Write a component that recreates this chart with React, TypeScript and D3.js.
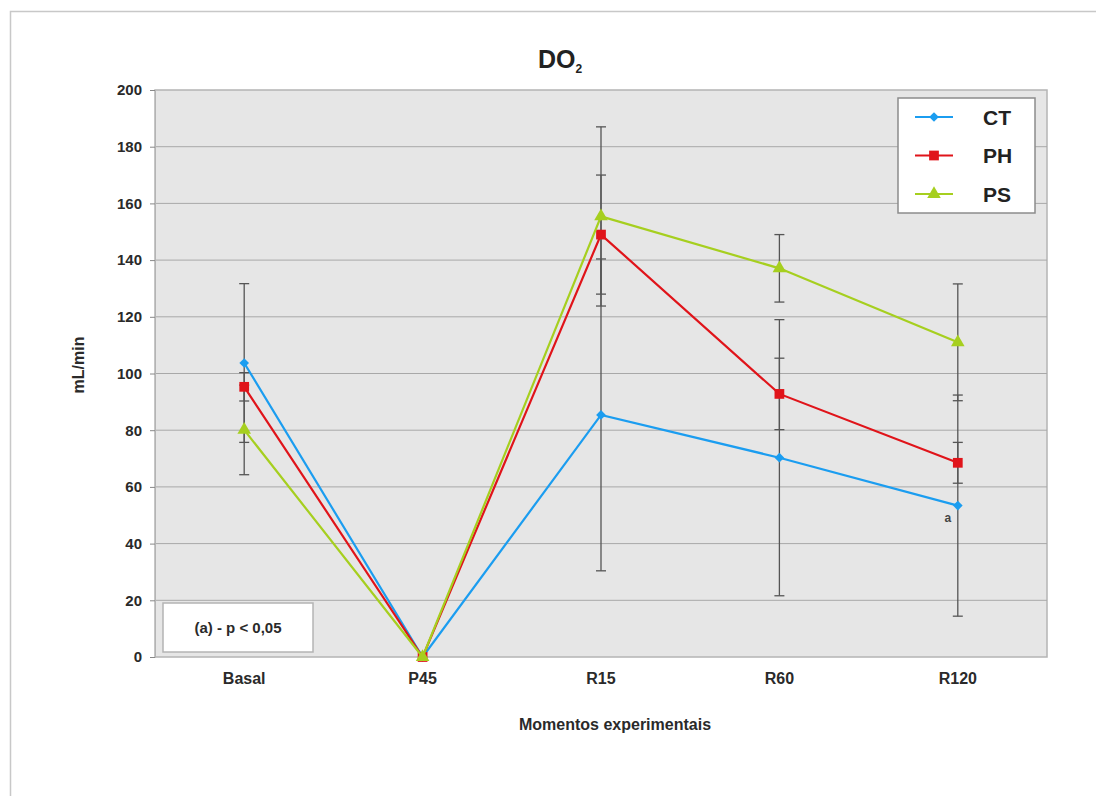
import React, { useRef, useEffect } from "react";
import * as d3 from "d3";

const moments = ["Basal", "P45", "R15", "R60", "R120"];
const ctValues = [103.7, 0, 85.4, 70.3, 53.4];
const phValues = [95.3, 0, 149, 92.8, 68.5];
const psValues = [80.1, 0, 155.4, 137.1, 111];
const ctErrors = [28, 0, 55, 48.7, 39];
const phErrors = [5, 0, 21, 12.6, 7.2];
const psErrors = [15.8, 0, 31.6, 11.9, 20.6];
const yTicks = [0, 20, 40, 60, 80, 100, 120, 140, 160, 180, 200];

const series = [
  { name: "CT", values: ctValues, errors: ctErrors, color: "#1b9df0", symbol: d3.symbolDiamond2, size: 60 },
  { name: "PH", values: phValues, errors: phErrors, color: "#e0141a", symbol: d3.symbolSquare, size: 95 },
  { name: "PS", values: psValues, errors: psErrors, color: "#a6cf1f", symbol: d3.symbolTriangle, size: 80 },
];

const App = () => {
  const svgRef = useRef<SVGSVGElement>(null);

  useEffect(() => {
    const width = 1096;
    const height = 796;
    const plot = { left: 155, right: 1047, top: 90, bottom: 657 };
    const font = "'Liberation Sans', Arial, sans-serif";

    const svg = d3.select(svgRef.current);
    svg.selectAll("*").remove();

    svg.append("rect").attr("width", width).attr("height", height).attr("fill", "#ffffff");

    // outer chart frame (only left/top visible)
    svg
      .append("path")
      .attr("d", `M10.5,${height} V11.5 H${width}`)
      .attr("fill", "none")
      .attr("stroke", "#c8c8c8")
      .attr("stroke-width", 1.5);

    const x = d3
      .scalePoint<string>()
      .domain(moments)
      .range([plot.left, plot.right])
      .padding(0.5);

    const y = d3.scaleLinear().domain([0, 200]).range([plot.bottom, plot.top]);

    // plot background
    svg
      .append("rect")
      .attr("x", plot.left)
      .attr("y", plot.top)
      .attr("width", plot.right - plot.left)
      .attr("height", plot.bottom - plot.top)
      .attr("fill", "#e6e6e6")
      .attr("stroke", "#b4b4b4")
      .attr("stroke-width", 1.5);

    // grid lines
    svg
      .append("g")
      .selectAll("line")
      .data(yTicks.slice(1, -1))
      .join("line")
      .attr("x1", plot.left)
      .attr("x2", plot.right)
      .attr("y1", (d) => y(d))
      .attr("y2", (d) => y(d))
      .attr("stroke", "#a8a8a8")
      .attr("stroke-width", 1);

    // y axis
    const yAxis = svg
      .append("g")
      .attr("transform", `translate(${plot.left},0)`)
      .call(d3.axisLeft(y).tickValues(yTicks).tickSize(5).tickPadding(8));
    yAxis.select(".domain").attr("stroke", "#b4b4b4");
    yAxis.selectAll(".tick line").attr("stroke", "#888");
    yAxis
      .selectAll("text")
      .attr("font-family", font)
      .attr("font-weight", "bold")
      .attr("font-size", 15)
      .attr("fill", "#2a2a2a");

    // x tick labels
    svg
      .append("g")
      .selectAll("text")
      .data(moments)
      .join("text")
      .attr("x", (d) => x(d)!)
      .attr("y", 684)
      .attr("text-anchor", "middle")
      .attr("font-family", font)
      .attr("font-weight", "bold")
      .attr("font-size", 16)
      .attr("fill", "#2a2a2a")
      .text((d) => d);

    // error bars
    const cap = 5;
    series.forEach((s) => {
      const g = svg.append("g").attr("stroke", "#555").attr("stroke-width", 1.3);
      moments.forEach((m, i) => {
        const e = s.errors[i];
        if (!e) return;
        const cx = x(m)!;
        const top = y(s.values[i] + e);
        const bot = y(s.values[i] - e);
        g.append("line").attr("x1", cx).attr("x2", cx).attr("y1", top).attr("y2", bot);
        g.append("line").attr("x1", cx - cap).attr("x2", cx + cap).attr("y1", top).attr("y2", top);
        g.append("line").attr("x1", cx - cap).attr("x2", cx + cap).attr("y1", bot).attr("y2", bot);
      });
    });

    // lines and markers
    const line = d3
      .line<number>()
      .x((_, i) => x(moments[i])!)
      .y((d) => y(d));

    series.forEach((s) => {
      svg
        .append("path")
        .datum(s.values)
        .attr("d", line)
        .attr("fill", "none")
        .attr("stroke", s.color)
        .attr("stroke-width", 2.2);
      svg
        .append("g")
        .selectAll("path")
        .data(s.values)
        .join("path")
        .attr("transform", (d, i) => `translate(${x(moments[i])},${y(d)})`)
        .attr("d", d3.symbol().type(s.symbol).size(s.size)())
        .attr("fill", s.color);
    });

    // significance letter
    svg
      .append("text")
      .attr("x", x("R120")! - 10)
      .attr("y", y(ctValues[4]) + 16)
      .attr("text-anchor", "middle")
      .attr("font-family", font)
      .attr("font-weight", "bold")
      .attr("font-size", 12)
      .attr("fill", "#444")
      .text("a");

    // annotation box
    svg
      .append("rect")
      .attr("x", 163)
      .attr("y", 603)
      .attr("width", 150)
      .attr("height", 49)
      .attr("fill", "#ffffff")
      .attr("stroke", "#b4b4b4")
      .attr("stroke-width", 1.5);
    svg
      .append("text")
      .attr("x", 238)
      .attr("y", 633)
      .attr("text-anchor", "middle")
      .attr("font-family", font)
      .attr("font-weight", "bold")
      .attr("font-size", 15)
      .attr("fill", "#2a2a2a")
      .text("(a) - p < 0,05");

    // legend
    const legend = svg.append("g").attr("transform", "translate(898,98)");
    legend
      .append("rect")
      .attr("width", 137)
      .attr("height", 115)
      .attr("fill", "#ffffff")
      .attr("stroke", "#8c8c8c")
      .attr("stroke-width", 1.5);
    series.forEach((s, i) => {
      const ly = 19 + i * 38.5;
      legend
        .append("line")
        .attr("x1", 17)
        .attr("x2", 55)
        .attr("y1", ly)
        .attr("y2", ly)
        .attr("stroke", s.color)
        .attr("stroke-width", 2.2);
      legend
        .append("path")
        .attr("transform", `translate(36,${ly})`)
        .attr("d", d3.symbol().type(s.symbol).size(s.size)())
        .attr("fill", s.color);
      legend
        .append("text")
        .attr("x", 85)
        .attr("y", ly + 7.5)
        .attr("font-family", font)
        .attr("font-weight", "bold")
        .attr("font-size", 21)
        .attr("fill", "#222")
        .text(s.name);
    });

    // title
    const title = svg
      .append("text")
      .attr("x", 560)
      .attr("y", 68)
      .attr("text-anchor", "middle")
      .attr("font-family", font)
      .attr("font-weight", "bold")
      .attr("font-size", 25)
      .attr("fill", "#222");
    title.append("tspan").text("DO");
    title.append("tspan").attr("font-size", 12).attr("dy", 5).text("2");

    // axis titles
    svg
      .append("text")
      .attr("x", 615)
      .attr("y", 730)
      .attr("text-anchor", "middle")
      .attr("font-family", font)
      .attr("font-weight", "bold")
      .attr("font-size", 16)
      .attr("fill", "#2a2a2a")
      .text("Momentos experimentais");

    svg
      .append("text")
      .attr("transform", "translate(84,365) rotate(-90)")
      .attr("text-anchor", "middle")
      .attr("font-family", font)
      .attr("font-weight", "bold")
      .attr("font-size", 16)
      .attr("fill", "#2a2a2a")
      .text("mL/min");
  }, []);

  return (
    <svg
      ref={svgRef}
      width={1096}
      height={796}
      style={{ position: "absolute", left: 0, top: 0, display: "block" }}
    />
  );
};

export default App;
